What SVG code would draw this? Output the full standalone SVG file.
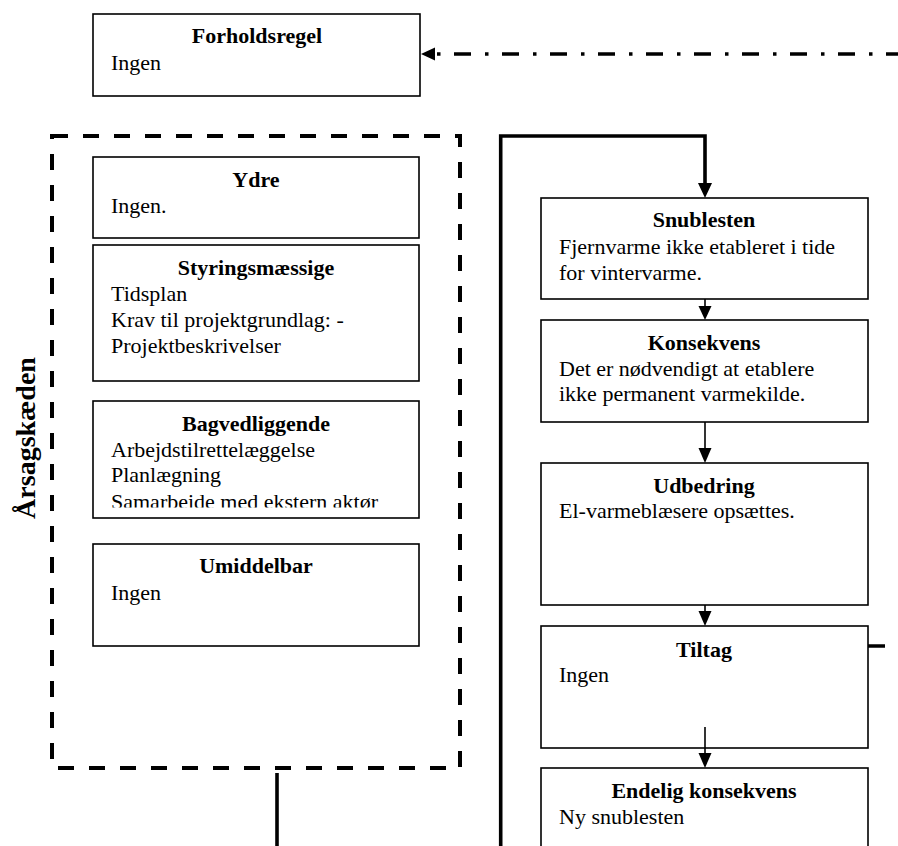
<svg xmlns="http://www.w3.org/2000/svg" width="898" height="846" viewBox="0 0 898 846">
  <style>
    .box { fill: #fff; stroke: #000; stroke-width: 1.6; }
    .title { font-family: "Liberation Serif", "Times New Roman", serif; font-size: 22px; font-weight: bold; text-anchor: middle; fill: #000; }
    .body { font-family: "Liberation Serif", "Times New Roman", serif; font-size: 22px; fill: #000; }
    .thin { stroke: #000; stroke-width: 1.6; fill: none; }
    .thick { stroke: #000; stroke-width: 3.6; fill: none; }
    .head { fill: #000; }
  </style>
  <defs>
    <clipPath id="clip-bag">
      <rect x="93" y="401" width="326" height="106.5"/>
    </clipPath>
  </defs>

  <rect width="898" height="846" fill="#fff"/>

  <!-- cause chain frame -->
  <g id="aarsagskaeden">
    <rect x="52" y="136" width="408" height="632" fill="none" stroke="#000" stroke-width="4" stroke-dasharray="16 15"/>
    <text class="title" style="font-size:28px" transform="translate(35,438) rotate(-90)">Årsagskæden</text>
  </g>

  <!-- connectors -->
  <g id="connectors">
    <!-- feedback from the right into Forholdsregel -->
    <line x1="437" y1="54" x2="898" y2="54" stroke="#000" stroke-width="3.5" stroke-dasharray="3.5 13.5 17 14"/>
    <polygon class="head" points="421,54 435,47.5 435,60.5"/>

    <!-- loop into Snublesten -->
    <polyline class="thick" points="500.7,846 500.7,136 705,136 705,184"/>
    <polygon class="head" points="698,183 712,183 705,198"/>

    <!-- chain links -->
    <line class="thin" x1="705" y1="299" x2="705" y2="308"/>
    <polygon class="head" points="698.5,306 711.5,306 705,320"/>
    <line class="thin" x1="705" y1="422" x2="705" y2="450"/>
    <polygon class="head" points="698.5,448 711.5,448 705,463"/>
    <line class="thin" x1="705" y1="605" x2="705" y2="613"/>
    <polygon class="head" points="698.5,611 711.5,611 705,626"/>
    <line class="thin" x1="705" y1="727" x2="705" y2="755"/>
    <polygon class="head" points="698.5,753 711.5,753 705,768"/>

    <!-- stub from Tiltag -->
    <line x1="867" y1="646" x2="885" y2="646" stroke="#000" stroke-width="3.5"/>

    <!-- line down from the cause chain -->
    <line x1="277" y1="773" x2="277" y2="846" stroke="#000" stroke-width="3.6"/>
  </g>

  <g id="forholdsregel">
    <rect class="box" x="93" y="14" width="327" height="82"/>
    <text class="title" x="257" y="43">Forholdsregel</text>
    <text class="body" x="111" y="70">Ingen</text>
  </g>

  <g id="ydre">
    <rect class="box" x="93" y="157" width="326" height="81"/>
    <text class="title" x="256" y="187">Ydre</text>
    <text class="body" x="111" y="213">Ingen.</text>
  </g>

  <g id="styringsmaessige">
    <rect class="box" x="93" y="245" width="326" height="136"/>
    <text class="title" x="256" y="275">Styringsmæssige</text>
    <text class="body" x="111" y="301">Tidsplan</text>
    <text class="body" x="111" y="327">Krav til projektgrundlag: -</text>
    <text class="body" x="111" y="353">Projektbeskrivelser</text>
  </g>

  <g id="bagvedliggende">
    <rect class="box" x="93" y="401" width="326" height="117"/>
    <text class="title" x="256" y="431">Bagvedliggende</text>
    <g clip-path="url(#clip-bag)">
      <text class="body" x="111" y="457">Arbejdstilrettelæggelse</text>
      <text class="body" x="111" y="482">Planlægning</text>
      <text class="body" x="111" y="508.5">Samarbeide med ekstern aktør</text>
    </g>
  </g>

  <g id="umiddelbar">
    <rect class="box" x="93" y="544" width="326" height="102"/>
    <text class="title" x="256" y="573">Umiddelbar</text>
    <text class="body" x="111" y="600">Ingen</text>
  </g>

  <g id="snublesten">
    <rect class="box" x="541" y="198" width="327" height="101"/>
    <text class="title" x="704" y="227">Snublesten</text>
    <text class="body" x="559" y="254">Fjernvarme ikke etableret i tide</text>
    <text class="body" x="559" y="280">for vintervarme.</text>
  </g>

  <g id="konsekvens">
    <rect class="box" x="541" y="320" width="327" height="102"/>
    <text class="title" x="704" y="350">Konsekvens</text>
    <text class="body" x="559" y="376">Det er nødvendigt at etablere</text>
    <text class="body" x="559" y="401">ikke permanent varmekilde.</text>
  </g>

  <g id="udbedring">
    <rect class="box" x="541" y="463" width="327" height="142"/>
    <text class="title" x="704" y="493">Udbedring</text>
    <text class="body" x="559" y="518">El-varmeblæsere opsættes.</text>
  </g>

  <g id="tiltag">
    <rect class="box" x="541" y="626" width="327" height="122"/>
    <text class="title" x="704" y="657">Tiltag</text>
    <text class="body" x="559" y="682">Ingen</text>
    <line class="thin" x1="705" y1="727" x2="705" y2="748"/>
  </g>

  <g id="endelig-konsekvens">
    <rect class="box" x="541" y="768" width="327" height="100"/>
    <text class="title" x="704" y="798">Endelig konsekvens</text>
    <text class="body" x="559" y="824">Ny snublesten</text>
  </g>
</svg>
